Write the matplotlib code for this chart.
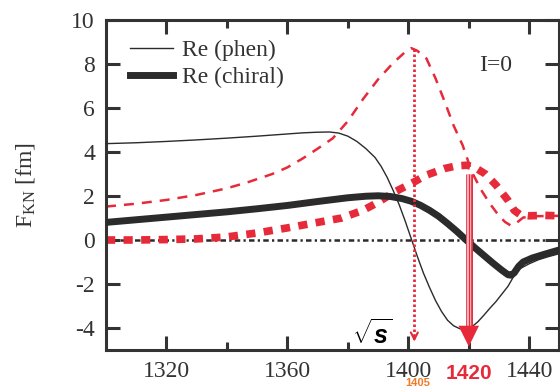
import numpy as np
import matplotlib
matplotlib.use('Agg')
import matplotlib.pyplot as plt

plt.rcParams['mathtext.fontset'] = 'custom'
plt.rcParams['mathtext.rm'] = 'Liberation Serif'
plt.rcParams['mathtext.it'] = 'Liberation Sans:italic:bold'

# Re (phen) - thin black
x_re_phen = [1300, 1310, 1320, 1330, 1340, 1350, 1360, 1365, 1370, 1374, 1377, 1380, 1383, 1386,
             1389, 1391, 1393, 1395, 1397, 1399, 1401, 1403, 1405, 1407, 1409, 1411, 1413, 1415,
             1417, 1419, 1421, 1423, 1425, 1427, 1429, 1431, 1433, 1435, 1437, 1440, 1443, 1446, 1450]
y_re_phen = [4.38, 4.42, 4.48, 4.55, 4.63, 4.72, 4.82, 4.87, 4.90, 4.91, 4.86, 4.72, 4.48, 4.15,
             3.75, 3.35, 2.85, 2.25, 1.6, 0.85, 0.05, -0.75, -1.5, -2.15, -2.75, -3.25, -3.65, -3.9,
             -4.03, -4.06, -3.95, -3.72, -3.42, -3.1, -2.8, -2.45, -2.1, -1.62, -1.3, -1.08, -0.9, -0.77, -0.62]

# Re (chiral) - thick black
x_re_chiral = [1300, 1310, 1320, 1330, 1340, 1350, 1360, 1370, 1380, 1386, 1390, 1394, 1398, 1401,
               1404, 1407, 1410, 1413, 1416, 1419, 1422, 1425, 1428, 1431, 1433, 1434, 1435, 1436.5,
               1438, 1441, 1445, 1450]
y_re_chiral = [0.80, 0.92, 1.04, 1.16, 1.28, 1.42, 1.57, 1.75, 1.92, 1.99, 2.01, 1.98, 1.88, 1.76,
               1.58, 1.35, 1.08, 0.75, 0.4, 0.02, -0.35, -0.7, -1.05, -1.38, -1.58, -1.6, -1.5, -1.2,
               -1.0, -0.82, -0.65, -0.45]

# Im (phen) - thin red dashed
x_im_phen = [1300, 1310, 1320, 1330, 1340, 1347, 1355, 1360, 1365, 1370, 1375, 1380, 1385, 1390,
             1395, 1399, 1401, 1403, 1406, 1409, 1412, 1415, 1418, 1421, 1424, 1427, 1430, 1432,
             1434, 1436, 1438, 1442, 1450]
y_im_phen = [1.52, 1.65, 1.82, 2.05, 2.35, 2.63, 3.0, 3.3, 3.7, 4.15, 4.62, 5.4, 6.4, 7.3,
             8.05, 8.55, 8.72, 8.6, 8.25, 7.35, 6.3, 5.2, 4.3, 3.1, 2.3, 1.65, 1.1, 0.82,
             0.65, 0.8, 1.02, 1.08, 1.1]

# Im (chiral) - thick red dashed
x_im_chiral = [1300, 1310, 1320, 1330, 1340, 1350, 1360, 1370, 1378, 1385, 1390, 1395, 1401, 1406,
               1412, 1416, 1419.5, 1422, 1425.5, 1429, 1433, 1435, 1437, 1440, 1445, 1450]
y_im_chiral = [0.0, 0.0, 0.02, 0.05, 0.14, 0.32, 0.55, 0.8, 1.0, 1.35, 1.71, 2.15, 2.57, 2.95,
               3.25, 3.37, 3.4, 3.3, 3.0, 2.5, 1.8, 1.35, 1.15, 1.1, 1.12, 1.1]

pole_phen = 1402
pole_chiral = 1420
x_major = [1320, 1360, 1400, 1440]
x_minor = [1340, 1380, 1420]
y_ticks = [-4, -2, 0, 2, 4, 6, 8, 10]

RED = '#e62a3a'
BLK = '#2b2b2b'
TXT = '#333333'

fig = plt.figure(figsize=(5.6, 3.88), dpi=100)
ax = fig.add_axes([106/560, 38/388, 454/560 - 0.001, 330/388])

ax.axhline(0, color=BLK, lw=1.8, ls=(0, (2.2, 1.3, 0.9, 1.3)), zorder=1)

ax.plot(x_im_phen, y_im_phen, color=RED, lw=1.8, ls=(0, (4, 3.2)), zorder=2)
ax.plot(x_im_chiral, y_im_chiral, color=RED, lw=5.5, ls=(0, (1.2, 1.1)), zorder=2)
l1, = ax.plot(x_re_phen, y_re_phen, color=BLK, lw=1.0, zorder=3)
l2, = ax.plot(x_re_chiral, y_re_chiral, color=BLK, lw=5.0, zorder=3)

# dotted arrow at the phen pole
top_phen = np.interp(pole_phen, x_im_phen, y_im_phen)
ax.plot([pole_phen, pole_phen], [top_phen, -4.5], color=RED, lw=2.0, ls=(0, (0.9, 0.9)), zorder=4)
ax.annotate('', xy=(pole_phen, -4.75), xytext=(pole_phen, -4.2),
            arrowprops=dict(arrowstyle='->,head_length=0.5,head_width=0.25', color=RED, lw=1.5))

# triple line + big arrow at the chiral pole
top_chiral = np.interp(pole_chiral, x_im_chiral, y_im_chiral) - 0.4
ax.plot([pole_chiral, pole_chiral], [top_chiral, -4.0], color=RED, lw=5.0, zorder=4, solid_capstyle='butt')
ax.plot([pole_chiral, pole_chiral], [top_chiral, -4.0], color='#f7b4bc', lw=3.2, zorder=4, solid_capstyle='butt')
ax.plot([pole_chiral, pole_chiral], [top_chiral, -4.0], color=RED, lw=0.8, zorder=4, solid_capstyle='butt')
ax.annotate('', xy=(pole_chiral, -4.97), xytext=(pole_chiral, -3.95),
            arrowprops=dict(arrowstyle='-|>,head_length=0.75,head_width=0.37', color=RED, lw=0,
                            mutation_scale=20), zorder=5)

ax.text(1388, -4.3, r'$\sqrt{s}$', fontsize=18, ha='center', va='center', color='black')
ax.text(0.86, 0.862, 'I=0', transform=ax.transAxes, fontsize=17, family='Liberation Serif',
        color=TXT, ha='center', va='center')

ax.set_xlim(1300, 1450)
ax.set_ylim(-5, 10)
ax.set_xticks(x_major)
ax.set_xticks(x_minor, minor=True)
ax.set_yticks(y_ticks)
ax.set_yticklabels([str(t) for t in y_ticks])
ax.tick_params(which='both', direction='in', top=True, right=True, width=2.2, color=TXT,
               labelsize=17, labelcolor=TXT, pad=8)
ax.tick_params(which='major', length=10)
ax.tick_params(which='minor', length=5.5)
for lab in ax.get_xticklabels() + ax.get_yticklabels():
    lab.set_family('Liberation Serif')
for s in ax.spines.values():
    s.set_linewidth(2.2)
    s.set_color(TXT)

ax.set_ylabel(r'F$_{\rm KN}$ [fm]', fontsize=17, family='Liberation Serif', color=TXT, labelpad=24)

leg = ax.legend([l1, l2], ['Re (phen)', 'Re (chiral)'], loc='upper left',
                bbox_to_anchor=(0.053, 0.94), frameon=False, borderpad=0, borderaxespad=0,
                handlelength=1.8, handletextpad=0.42, labelspacing=0.22,
                prop={'family': 'Liberation Serif', 'size': 17})
for t in leg.get_texts():
    t.set_color(TXT)

# labels under the axis
ax.annotate(str(pole_chiral), xy=(pole_chiral, -5.0), xytext=(0, -10), textcoords='offset points',
            fontsize=15, fontweight='bold', family='Liberation Sans', color=RED, ha='center', va='top')
fig.text(418/560, 1 - 387.5/388, '1405', fontsize=8, fontweight='bold',
         family='Liberation Sans', color='#f07a28', ha='center', va='bottom')

fig.savefig('out.png', dpi=100)
